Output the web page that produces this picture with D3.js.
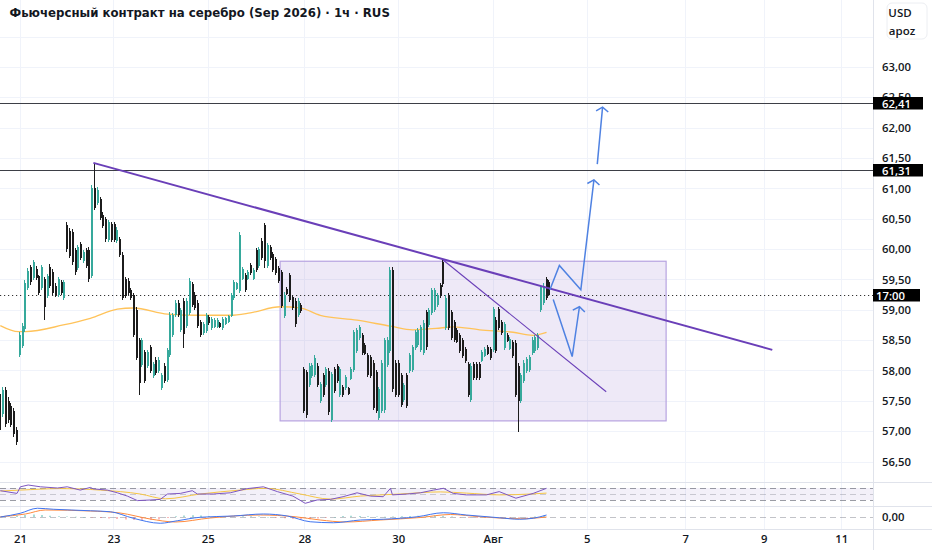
<!DOCTYPE html>
<html><head><meta charset="utf-8">
<script src="https://cdn.jsdelivr.net/npm/d3@7/dist/d3.min.js"></script>
<style>
html,body{margin:0;padding:0;background:#fff;}
svg{display:block;font-family:"Open Sans","Noto Sans",sans-serif;}
</style></head><body>
<svg id="chart" width="932" height="550"></svg>
<script>
// ---------------- DATA ----------------
const title = "Фьючерсный контракт на серебро (Sep 2026) · 1ч · RUS";
const currency = ["USD", "apoz"];

// hourly candles (bar index 0..197)
const highs = [
57.68,57.73,57.73,57.56,57.47,57.38,57.07,58.63,58.78,59.49,
59.69,59.74,59.82,59.72,59.58,59.74,59.54,59.59,59.75,59.67,
59.44,59.54,59.49,59.49,60.45,60.35,60.33,60.02,60.07,60.12,
59.99,60.02,60.03,61.06,61.42,61.02,60.86,60.61,60.53,60.48,
60.45,60.45,60.36,60.20,59.95,59.54,59.52,59.36,59.28,59.05,
58.54,58.54,58.34,58.34,58.42,58.14,58.22,58.22,57.96,58.12,
58.37,58.96,58.95,59.16,59.16,59.03,59.19,59.19,59.52,59.46,
59.29,59.16,58.83,58.80,58.95,58.91,58.88,58.86,58.86,58.80,
58.88,58.88,58.91,59.28,59.49,59.46,60.28,59.70,59.61,59.66,
59.77,59.69,60.02,60.03,60.18,60.43,60.10,60.07,59.95,59.87,
59.72,59.66,59.29,59.38,59.61,59.24,59.19,59.19,59.11,58.06,
58.01,58.12,58.12,58.25,58.12,57.81,57.96,58.06,58.04,57.98,
58.06,58.11,58.06,57.76,57.93,57.73,58.06,58.67,58.70,58.75,
58.62,58.45,58.29,58.26,58.17,58.01,57.73,58.17,58.54,58.55,
59.70,59.70,58.17,58.17,57.96,57.79,57.96,58.29,58.42,58.67,
58.70,58.75,58.83,59.00,59.03,59.36,59.36,59.28,59.44,59.82,
59.24,59.28,59.00,58.83,58.70,58.62,58.54,58.39,58.14,58.12,
58.14,58.14,58.14,58.34,58.39,58.42,58.39,59.05,58.88,59.05,
58.83,58.80,58.62,58.55,58.50,58.50,58.12,57.96,58.17,58.22,
58.26,58.55,58.59,58.62,59.41,59.44,59.54,59.49];
const lows = [
56.97,57.24,57.07,57.14,57.07,56.91,56.77,58.22,58.37,58.63,
59.33,59.41,59.49,59.49,59.24,59.33,58.83,59.20,59.36,59.24,
59.21,59.21,59.24,59.16,59.95,59.85,59.74,59.58,59.66,59.82,
59.77,59.69,59.46,59.52,60.64,60.73,60.48,60.35,60.12,60.12,
60.12,60.12,60.10,59.87,59.16,59.20,59.24,59.16,58.55,58.17,
57.60,58.06,57.79,58.04,57.96,57.88,57.93,57.96,57.68,57.79,
57.81,58.22,58.55,58.88,58.88,58.63,58.37,58.70,58.91,59.05,
59.00,58.70,58.55,58.59,58.62,58.75,58.67,58.70,58.70,58.70,
58.67,58.75,58.78,58.88,59.16,59.33,59.28,59.49,59.29,59.49,
59.58,59.49,59.62,59.69,59.82,59.69,59.69,59.82,59.62,59.58,
59.44,59.03,58.87,59.24,59.13,59.00,58.72,58.88,58.95,57.30,
57.22,57.73,57.88,57.89,57.73,57.47,57.56,57.73,57.27,57.15,
57.63,57.79,57.56,57.56,57.68,57.60,57.84,57.98,58.29,58.50,
58.26,58.26,57.89,57.88,57.35,57.30,57.18,57.30,57.30,58.06,
58.29,57.65,57.56,57.56,57.40,57.48,57.38,57.96,57.98,58.34,
58.39,58.31,58.26,58.34,58.72,58.91,58.96,59.05,59.20,59.38,
58.67,58.67,58.50,58.47,58.45,58.29,58.21,58.12,57.56,57.48,
57.84,57.84,57.84,58.14,58.22,58.26,58.17,58.31,58.29,58.67,
58.59,58.34,58.47,58.34,58.21,57.56,56.99,57.47,57.79,57.96,
57.98,58.26,58.29,58.34,58.96,59.08,59.16,59.24];
const opens = [
57.62,57.28,57.68,57.50,57.42,57.33,57.02,58.25,58.40,58.68,
59.36,59.70,59.52,59.68,59.55,59.36,59.50,59.23,59.70,59.62,
59.40,59.24,59.45,59.19,60.40,60.30,60.28,59.98,59.69,60.08,
59.80,59.98,59.99,59.55,61.00,60.76,60.82,60.57,60.49,60.15,
60.41,60.41,60.13,60.16,59.91,59.50,59.48,59.32,59.24,59.00,
58.50,58.09,58.30,58.07,58.38,57.91,58.18,57.99,57.71,58.08,
57.84,58.25,58.58,58.91,59.12,58.66,59.15,58.73,58.94,59.42,
59.25,59.12,58.80,58.62,58.65,58.88,58.70,58.72,58.72,58.78,
58.70,58.77,58.80,58.90,59.19,59.35,59.31,59.51,59.58,59.51,
59.74,59.51,59.98,59.72,60.14,60.39,59.72,60.04,59.92,59.84,
59.69,59.62,58.90,59.35,59.57,59.21,59.15,58.91,59.08,58.02,
57.97,57.76,57.91,57.92,58.08,57.50,57.92,57.76,58.00,57.18,
58.02,58.07,57.59,57.73,57.71,57.71,57.86,58.01,58.32,58.53,
58.58,58.42,58.25,58.22,58.13,57.97,57.21,57.33,57.35,58.09,
58.32,59.65,58.13,58.13,57.92,57.51,57.92,57.99,58.01,58.37,
58.42,58.34,58.29,58.96,58.75,58.94,58.99,59.08,59.41,59.78,
58.70,59.24,58.96,58.80,58.67,58.58,58.50,58.36,58.10,57.51,
58.10,58.10,58.10,58.16,58.24,58.39,58.36,58.34,58.84,59.01,
58.80,58.37,58.59,58.36,58.47,58.46,58.08,57.50,57.82,57.99,
58.01,58.29,58.32,58.37,58.99,59.11,59.50,59.46];
const closes = [
57.02,57.68,57.12,57.18,57.10,56.95,56.82,58.58,58.74,59.44,
59.64,59.45,59.78,59.52,59.28,59.70,59.05,59.55,59.40,59.28,
59.25,59.50,59.27,59.45,60.00,59.88,59.78,59.62,60.03,59.85,
59.96,59.72,59.50,61.00,60.68,60.98,60.52,60.38,60.16,60.44,
60.15,60.15,60.32,59.90,59.20,59.23,59.27,59.19,58.59,58.21,
57.80,58.50,57.83,58.30,57.99,58.10,57.96,58.18,57.92,57.82,
58.33,58.92,58.91,59.12,58.91,58.99,58.60,59.15,59.48,59.08,
59.03,58.73,58.58,58.77,58.91,58.78,58.85,58.83,58.83,58.72,
58.85,58.86,58.89,59.25,59.46,59.44,60.24,59.67,59.32,59.63,
59.61,59.66,59.65,60.00,59.85,59.80,60.06,59.85,59.65,59.61,
59.47,59.07,59.25,59.26,59.16,59.03,58.76,59.15,58.98,57.34,
57.26,58.08,58.09,58.21,57.76,57.78,57.59,58.02,57.31,57.94,
57.66,57.82,58.02,57.59,57.90,57.62,58.03,58.63,58.66,58.72,
58.29,58.28,57.92,57.91,57.39,57.34,57.69,58.13,58.50,58.51,
59.65,57.70,57.59,57.60,57.43,57.76,57.41,58.25,58.38,58.63,
58.66,58.71,58.79,58.38,58.99,59.32,59.32,59.25,59.23,59.42,
59.20,58.70,58.53,58.50,58.47,58.32,58.24,58.15,57.60,58.08,
57.87,57.87,57.87,58.31,58.36,58.28,58.20,59.01,58.32,58.70,
58.62,58.76,58.49,58.52,58.24,57.60,57.50,57.92,58.13,58.19,
58.23,58.51,58.55,58.58,59.37,59.40,59.20,59.24];

// moving average (orange) read at bar indices
const maIdx = [0,6.5,9,22.6,32.3,42,47.7,60,71.8,82.5,89.7,100.5,107.6,114.8,128,140,148,158,162.5,172,184,191,196];
const maVal = [58.74,58.64,58.64,58.75,58.86,59.01,59.03,58.93,58.91,58.91,58.95,59.05,59.03,58.91,58.83,58.73,58.67,58.70,58.72,58.67,58.63,58.58,58.63];

// time axis
const timeTickIdx = [7.07,40.6,74.4,109.1,142.8,176.7,210.4,245.8,273.9,301.7];
const timeTickLabels = ["21","23","25","28","30","Авг","5","7","9","11"];

// price axis
const priceTicks = [56.5,57,57.5,58,58.5,59,59.5,60,60.5,61,61.5,62,62.5,63];
const priceGrid = [56.5,57,57.5,58,58.5,59,59.5,60,60.5,61,61.5,62,62.5,63,63.5];

// horizontal levels & last price
const levelPrices = [62.41, 61.31];
const levelLabels = ["62,41", "61,31"];
const lastPrice = 59.24;
const lastLabel = "17:00";

// drawings (bar index, price)
const trendMain = [[33.4, 61.42], [277, 58.34]];
const trendInner = [[158.9, 59.82], [217.4, 57.65]];
const boxIdx = [100.4, 238.9];
const boxPrice = [59.80, 57.17];
const arrowPaths = [
  [[197.2,59.33],[200.6,59.73],[208.3,59.33],[213.0,61.14]],
  [[214.2,61.40],[216.1,62.34]],
  [[198.4,59.17],[205.2,58.23],[207.8,59.05]]
];

// RSI pane
const rsiIdx = [0,6,7.2,10,14.4,20.5,24,28.7,32.3,33.4,38.4,42,45.6,49.2,53.8,57.4,60,64.6,68.9,70.7,76.4,82.5,88.6,94.4,99.4,105,109.4,113.7,118.4,123,128,132.8,137.4,140,140.7,146,150.7,155.4,159,162.5,167.2,174.4,179,185,191.2,196];
const rsiVal = [61,52,74,80,74,70,74,63,72,67,63,54,43,28,30,32,50,52,61,50,50,54,68,74,58,43,19,30,32,41,54,43,41,69,47,50,54,63,69,52,47,47,58,36,52,69];
const rsiMaIdx = [0,7.2,21.5,35.9,50.2,59.2,71.8,86,95,107.6,118.4,129.2,143.5,157.9,167.2,179.4,190.2,196];
const rsiMaVal = [60,63,68,63,50,34,50,63,69,50,33,43,50,57,53,47,50,53];
const rsiBands = [70, 50, 30];

// MACD pane
const macdIdx = [0,7.2,13.3,19,32.3,39.5,47.7,57.4,63.5,71.8,83.6,94.4,103,111.2,119.5,129.2,137.4,149.6,159,167.2,179,186.2,191.2,196];
const macdVal = [0,0.15,0.35,0.31,0.25,0.21,-0.05,-0.25,-0.15,-0.01,0.04,0.12,0.04,-0.19,-0.23,-0.12,-0.09,0.01,0.17,0.08,-0.03,-0.09,-0.05,0.08];
const signalIdx = [0,9,16.1,32.3,43,53.8,62.8,75.3,93.3,105.8,114.8,123.8,136.3,150.7,161.5,172.2,186.6,196];
const signalVal = [0.01,0.12,0.28,0.24,0.16,-0.08,-0.2,-0.04,0.08,0.01,-0.12,-0.2,-0.12,-0.02,0.1,0.01,-0.07,0.0];
const histIdx = [3,6,9,12,15,18,21,24,27,30,33,36,39,42,45,48,51,54,57,60,63,66,69,72,75,78,81,84,87,90,93,96,99,102,105,108,111,114,117,120,123,126,129,132,135,138,141,144,147,150,153,156,159,162,165,168,171,174,177,180,183,186,189,192,195];
const histVal = [0.02,0.05,0.08,0.1,0.08,0.05,0.03,0.02,0.01,0.0,-0.02,-0.04,-0.06,-0.08,-0.1,-0.12,-0.13,-0.12,-0.1,-0.04,0.03,0.06,0.07,0.06,0.04,0.03,0.02,0.02,0.03,0.03,0.02,0.0,-0.03,-0.05,-0.08,-0.1,-0.09,-0.06,-0.03,0.0,0.04,0.05,0.04,0.03,0.02,0.01,0.02,0.03,0.04,0.05,0.06,0.06,0.05,0.02,-0.02,-0.04,-0.04,-0.03,-0.02,-0.02,-0.03,-0.03,-0.01,0.02,0.05];

// ---------------- LAYOUT ----------------
const W = 932, H = 550;
const PLOT_R = 873;
const MAIN_B = 482, RSI_B = 506, MACD_B = 529;
const STEP = 2.787;
const FONT = "'Open Sans','Noto Sans',sans-serif";
const AX_FS = 11.3;

const svg = d3.select("#chart");
const x = d3.scaleLinear().domain([0, 300]).range([0.3, 0.3 + 300 * STEP]);
const y = d3.scaleLinear().domain([56.5, 63]).range([461.55, 67]);
const rsiY = d3.scaleLinear().domain([10, 90]).range([RSI_B, MAIN_B]);
const macdY = d3.scaleLinear().domain([-0.5, 0.5]).range([529.5, 504.5]);
const fmt = d3.formatLocale({decimal: ",", thousands: " ", grouping: [3], currency: ["", ""]}).format(".2f");

const defs = svg.append("defs");
defs.append("clipPath").attr("id", "mainClip").append("rect").attr("x", 0).attr("y", 0).attr("width", PLOT_R).attr("height", MAIN_B);
defs.append("clipPath").attr("id", "rsiClip").append("rect").attr("x", 0).attr("y", MAIN_B + 1).attr("width", PLOT_R).attr("height", RSI_B - MAIN_B - 1);
defs.append("clipPath").attr("id", "macdClip").append("rect").attr("x", 0).attr("y", RSI_B + 1).attr("width", PLOT_R).attr("height", MACD_B - RSI_B - 1);

svg.append("rect").attr("width", W).attr("height", H).attr("fill", "#fff");

// grid
const grid = svg.append("g").attr("shape-rendering", "crispEdges");
grid.selectAll("line.h").data(priceGrid).join("line").attr("class", "h")
  .attr("x1", 0).attr("x2", PLOT_R)
  .attr("y1", d => Math.round(y(d)) + 0.5).attr("y2", d => Math.round(y(d)) + 0.5)
  .attr("stroke", "#f0f3fa");
grid.selectAll("line.v").data(timeTickIdx).join("line").attr("class", "v")
  .attr("x1", d => Math.round(x(d)) + 0.5).attr("x2", d => Math.round(x(d)) + 0.5)
  .attr("y1", 0).attr("y2", MACD_B)
  .attr("stroke", "#f0f3fa");

// main pane
const main = svg.append("g").attr("clip-path", "url(#mainClip)");

main.append("rect")
  .attr("x", x(boxIdx[0])).attr("y", y(boxPrice[0]))
  .attr("width", x(boxIdx[1]) - x(boxIdx[0])).attr("height", y(boxPrice[1]) - y(boxPrice[0]))
  .attr("fill", "rgba(149,117,205,0.16)").attr("stroke", "#b7a3e0").attr("stroke-width", 1.2);

main.selectAll("line.lvl").data(levelPrices).join("line").attr("class", "lvl")
  .attr("x1", 0).attr("x2", PLOT_R)
  .attr("y1", d => Math.round(y(d)) + 0.5).attr("y2", d => Math.round(y(d)) + 0.5)
  .attr("stroke", "#3d3f46").attr("stroke-width", 1);

main.append("line").attr("x1", 0).attr("x2", PLOT_R)
  .attr("y1", Math.round(y(lastPrice)) + 0.5).attr("y2", Math.round(y(lastPrice)) + 0.5)
  .attr("stroke", "#333").attr("stroke-width", 1).attr("stroke-dasharray", "1.2,2.8");

const maLine = d3.line().x(d => x(d[0])).y(d => y(d[1])).curve(d3.curveMonotoneX);
main.append("path").datum(maIdx.map((d, i) => [d, maVal[i]]))
  .attr("d", maLine).attr("fill", "none").attr("stroke", "#ffc35a").attr("stroke-width", 1.3);

const bars = opens.map((o, i) => ({i, o, h: highs[i], l: lows[i], c: closes[i]}));
const UP = "#36a99c", DOWN = "#1c1c1c";
const cg = main.append("g").attr("shape-rendering", "crispEdges");
cg.selectAll("rect.wick").data(bars).join("rect").attr("class", "wick")
  .attr("x", d => Math.round(x(d.i)) - 1).attr("width", 1)
  .attr("y", d => y(d.h)).attr("height", d => Math.max(1, y(d.l) - y(d.h)))
  .attr("fill", d => d.c >= d.o ? UP : DOWN);
cg.selectAll("rect.body").data(bars).join("rect").attr("class", "body")
  .attr("x", d => Math.round(x(d.i)) - 1).attr("width", 2)
  .attr("y", d => y(Math.max(d.o, d.c))).attr("height", d => Math.max(1, Math.abs(y(d.o) - y(d.c))))
  .attr("fill", d => d.c >= d.o ? UP : DOWN);

main.append("line")
  .attr("x1", x(trendMain[0][0])).attr("y1", y(trendMain[0][1]))
  .attr("x2", x(trendMain[1][0])).attr("y2", y(trendMain[1][1]))
  .attr("stroke", "#6a3fb8").attr("stroke-width", 2);
main.append("line")
  .attr("x1", x(trendInner[0][0])).attr("y1", y(trendInner[0][1]))
  .attr("x2", x(trendInner[1][0])).attr("y2", y(trendInner[1][1]))
  .attr("stroke", "#6a3fb8").attr("stroke-width", 1.1);

const arrowColor = "#4f82e2";
const pl = d3.line().x(d => x(d[0])).y(d => y(d[1]));
arrowPaths.forEach(p => {
  main.append("path").datum(p).attr("d", pl).attr("fill", "none")
    .attr("stroke", arrowColor).attr("stroke-width", 1.5).attr("stroke-linejoin", "miter");
  const a = p[p.length - 2], b = p[p.length - 1];
  const ax = x(a[0]), ay = y(a[1]), bx = x(b[0]), by = y(b[1]);
  const ang = Math.atan2(ay - by, ax - bx);
  const L = 7.5, spread = 0.95;
  const p1 = [bx + L * Math.cos(ang + spread), by + L * Math.sin(ang + spread)];
  const p2 = [bx + L * Math.cos(ang - spread), by + L * Math.sin(ang - spread)];
  main.append("path").attr("d", `M${p1[0]},${p1[1]}L${bx},${by}L${p2[0]},${p2[1]}`)
    .attr("fill", "none").attr("stroke", arrowColor).attr("stroke-width", 1.5);
});

// RSI pane
const rsi = svg.append("g").attr("clip-path", "url(#rsiClip)");
rsi.append("rect").attr("x", 0).attr("width", PLOT_R)
  .attr("y", rsiY(rsiBands[0])).attr("height", rsiY(rsiBands[2]) - rsiY(rsiBands[0]))
  .attr("fill", "rgba(126,87,194,0.09)");
rsi.selectAll("line.band").data(rsiBands).join("line").attr("class", "band")
  .attr("x1", 0).attr("x2", PLOT_R)
  .attr("y1", d => Math.round(rsiY(d)) + 0.5).attr("y2", d => Math.round(rsiY(d)) + 0.5)
  .attr("stroke", (d, i) => i === 1 ? "rgba(120,123,134,0.35)" : "rgba(120,123,134,0.75)")
  .attr("stroke-dasharray", "6,4").attr("shape-rendering", "crispEdges");
rsi.append("path").datum(rsiMaIdx.map((d, i) => [d, rsiMaVal[i]]))
  .attr("d", d3.line().x(d => x(d[0])).y(d => rsiY(d[1])).curve(d3.curveMonotoneX))
  .attr("fill", "none").attr("stroke", "#f7c644").attr("stroke-width", 1);
rsi.append("path").datum(rsiIdx.map((d, i) => [d, rsiVal[i]]))
  .attr("d", d3.line().x(d => x(d[0])).y(d => rsiY(d[1])))
  .attr("fill", "none").attr("stroke", "#7e57c2").attr("stroke-width", 1);

// MACD pane
const macd = svg.append("g").attr("clip-path", "url(#macdClip)");
macd.append("line").attr("x1", 0).attr("x2", PLOT_R)
  .attr("y1", Math.round(macdY(0)) + 0.5).attr("y2", Math.round(macdY(0)) + 0.5)
  .attr("stroke", "rgba(120,123,134,0.45)").attr("stroke-dasharray", "6,4").attr("shape-rendering", "crispEdges");
macd.selectAll("rect.hist").data(histIdx.map((d, i) => [d, histVal[i]])).join("rect").attr("class", "hist")
  .attr("x", d => Math.round(x(d[0])) - 0.5).attr("width", 1)
  .attr("y", d => Math.min(macdY(0), macdY(d[1]))).attr("height", d => Math.max(0.5, Math.abs(macdY(d[1]) - macdY(0))))
  .attr("fill", d => d[1] >= 0 ? "#26a69a" : "#ef5350").attr("opacity", 0.8);
const ml = d3.line().x(d => x(d[0])).y(d => macdY(d[1])).curve(d3.curveMonotoneX);
macd.append("path").datum(signalIdx.map((d, i) => [d, signalVal[i]]))
  .attr("d", ml).attr("fill", "none").attr("stroke", "#ff8a3d").attr("stroke-width", 1);
macd.append("path").datum(macdIdx.map((d, i) => [d, macdVal[i]]))
  .attr("d", ml).attr("fill", "none").attr("stroke", "#3f74f0").attr("stroke-width", 1);

// separators
const sep = svg.append("g").attr("shape-rendering", "crispEdges").attr("stroke", "#e0e3eb");
[MAIN_B, RSI_B, MACD_B].forEach(v => sep.append("line").attr("x1", 0).attr("x2", W).attr("y1", v + 0.5).attr("y2", v + 0.5));
sep.append("line").attr("x1", PLOT_R + 0.5).attr("x2", PLOT_R + 0.5).attr("y1", 0).attr("y2", H);

// price axis
const yAxis = d3.axisRight(y).tickValues(priceTicks).tickFormat(fmt).tickSize(0).tickPadding(9);
const ya = svg.append("g").attr("transform", `translate(${PLOT_R},0)`).call(yAxis);
ya.select(".domain").remove();
ya.selectAll("text").attr("fill", "#131722").attr("font-size", AX_FS).attr("font-weight", 600).attr("font-family", FONT);

const ma2 = d3.axisRight(macdY).tickValues([0]).tickFormat(fmt).tickSize(0).tickPadding(9);
const mz = svg.append("g").attr("transform", `translate(${PLOT_R},0)`).call(ma2);
mz.select(".domain").remove();
mz.selectAll("text").attr("fill", "#131722").attr("font-size", AX_FS).attr("font-weight", 600).attr("font-family", FONT);

// currency box
const cb = svg.append("g");
cb.append("rect").attr("x", 887).attr("y", 3).attr("width", 40).attr("height", 36).attr("rx", 5)
  .attr("fill", "#fff").attr("stroke", "#eceef2");
cb.selectAll("text").data(currency).join("text")
  .attr("x", (d, i) => i === 0 ? 900 : 902).attr("y", (d, i) => i === 0 ? 16.5 : 35)
  .attr("text-anchor", "middle").attr("font-size", 11.5).attr("font-weight", 600).attr("fill", "#131722")
  .text(d => d);

// price labels (black boxes)
const tagData = levelPrices.map((p, i) => ({p, t: levelLabels[i], x0: 873, w: 50, tx: 882}))
  .concat([{p: lastPrice, t: lastLabel, x0: 873, w: 47, tx: 876}]);
const tags = svg.append("g").selectAll("g").data(tagData).join("g");
tags.append("rect").attr("x", d => d.x0).attr("y", d => Math.round(y(d.p)) - 6)
  .attr("width", d => d.w).attr("height", 12.5).attr("fill", "#000");
tags.append("text").attr("x", d => d.tx).attr("y", d => Math.round(y(d.p)) + 0.5)
  .attr("dominant-baseline", "central").attr("font-size", AX_FS).attr("font-weight", 600)
  .attr("fill", "#fff").text(d => d.t);

// time axis
const xAxis = d3.axisBottom(x).tickValues(timeTickIdx).tickFormat((d, i) => timeTickLabels[i]).tickSize(0).tickPadding(5);
const xa = svg.append("g").attr("transform", `translate(0,${MACD_B + 1})`).call(xAxis);
xa.select(".domain").remove();
xa.selectAll("text").attr("fill", "#131722").attr("font-size", 11.3).attr("font-weight", 600).attr("font-family", FONT);

// title
svg.append("text").attr("x", 9.5).attr("y", 16.5).attr("font-size", 11.75).attr("font-weight", 700)
  .attr("font-family", "'DejaVu Sans',sans-serif")
  .attr("fill", "#131722").text(title);
</script>
</body></html>
